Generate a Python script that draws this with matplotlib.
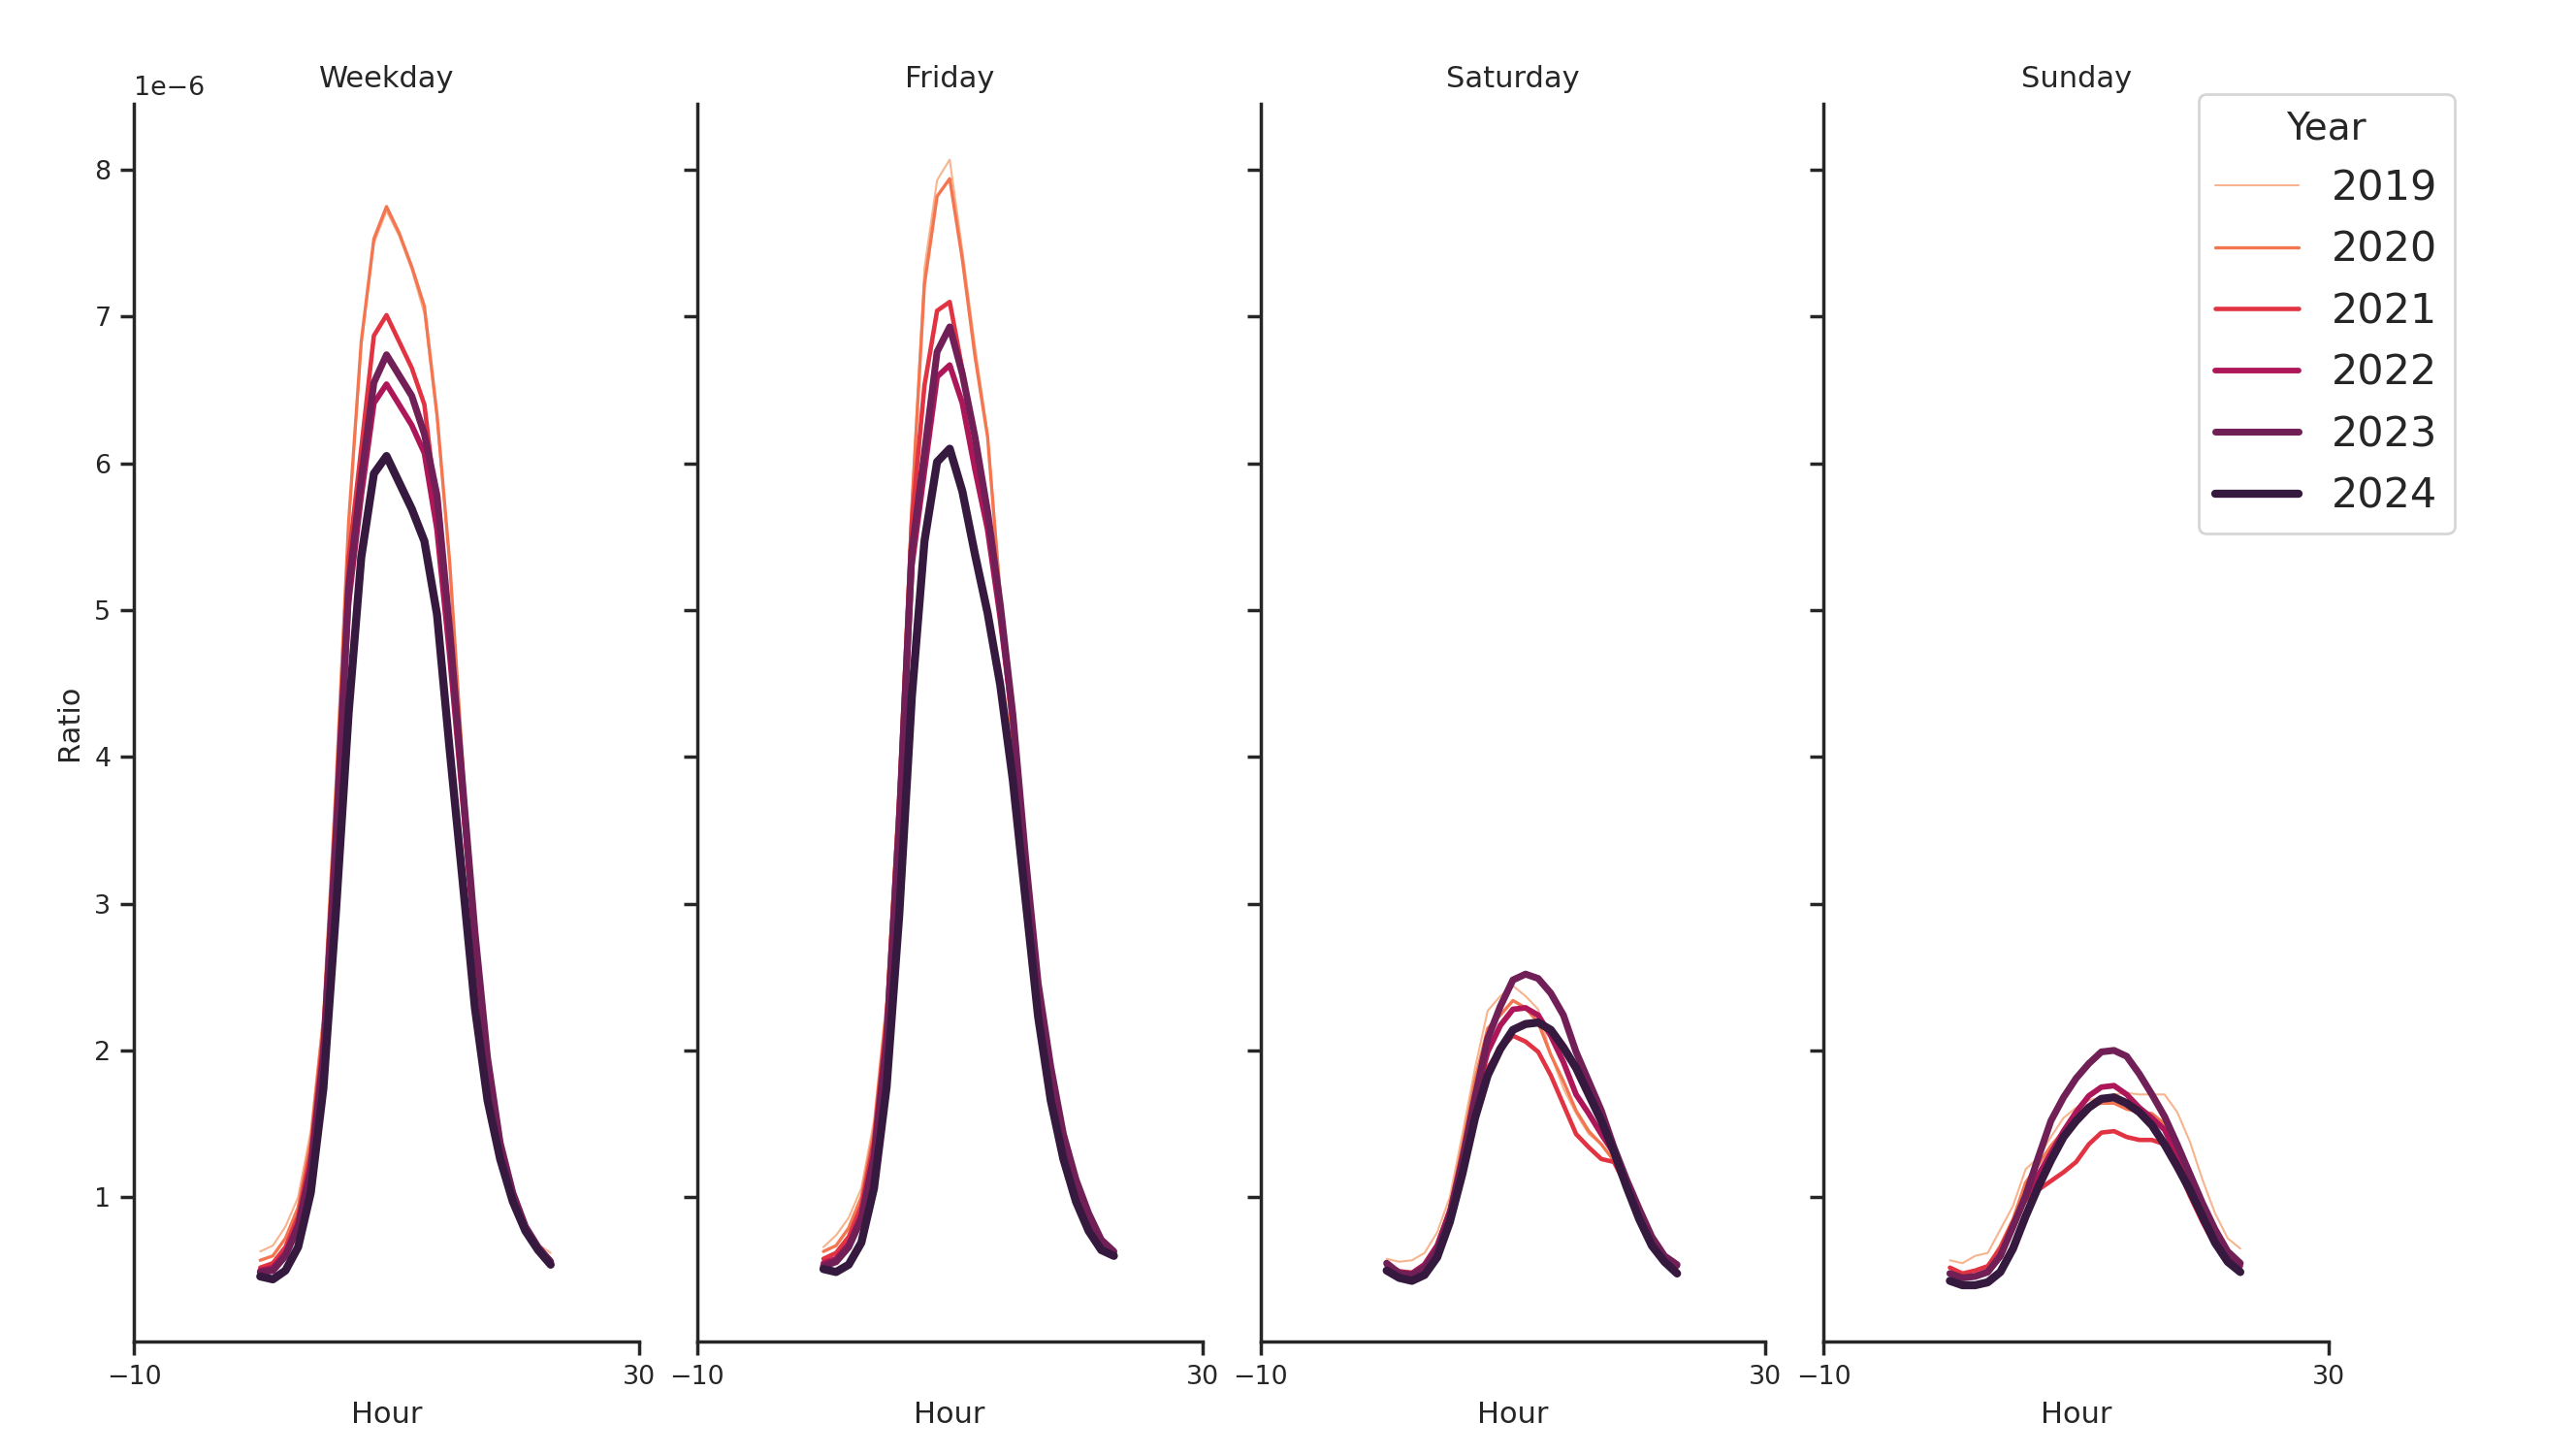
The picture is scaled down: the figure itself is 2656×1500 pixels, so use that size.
import matplotlib
matplotlib.use("Agg")
import matplotlib.pyplot as plt
from matplotlib.lines import Line2D

hours = list(range(24))
days = ["Weekday", "Friday", "Saturday", "Sunday"]
years = [2019, 2020, 2021, 2022, 2023, 2024]
colors = ["#f6b48f", "#f37651", "#e13342", "#ad1759", "#701f57", "#35193e"]
widths = [0.75, 1.2, 1.65, 2.1, 2.55, 3.0]

# ratio values (x 1e-6), one list of 24 hours per year
weekday = {
    2019: [0.63, 0.67, 0.80, 1.00, 1.45, 2.25, 3.75, 5.55, 6.80, 7.50, 7.72, 7.55, 7.32, 7.02, 6.30, 5.30, 4.00, 2.65, 1.80, 1.32, 1.02, 0.82, 0.68, 0.62],
    2020: [0.57, 0.60, 0.72, 0.93, 1.38, 2.20, 3.80, 5.60, 6.83, 7.53, 7.75, 7.57, 7.34, 7.07, 6.33, 5.33, 4.00, 2.63, 1.78, 1.29, 1.00, 0.80, 0.66, 0.58],
    2021: [0.52, 0.55, 0.66, 0.87, 1.30, 2.10, 3.60, 5.35, 6.10, 6.87, 7.01, 6.83, 6.65, 6.40, 5.67, 4.75, 3.72, 2.69, 1.89, 1.37, 1.03, 0.80, 0.66, 0.57],
    2022: [0.50, 0.52, 0.62, 0.82, 1.22, 2.00, 3.40, 5.05, 5.78, 6.41, 6.54, 6.40, 6.26, 6.07, 5.55, 4.70, 3.75, 2.75, 1.92, 1.37, 1.03, 0.80, 0.66, 0.56],
    2023: [0.49, 0.50, 0.60, 0.80, 1.18, 1.95, 3.45, 5.15, 5.90, 6.55, 6.74, 6.60, 6.46, 6.20, 5.78, 4.87, 3.84, 2.81, 1.95, 1.37, 1.03, 0.80, 0.66, 0.56],
    2024: [0.46, 0.44, 0.50, 0.66, 1.03, 1.74, 2.95, 4.30, 5.36, 5.93, 6.05, 5.87, 5.69, 5.47, 4.97, 4.05, 3.18, 2.29, 1.66, 1.26, 0.97, 0.77, 0.64, 0.54],
}
friday = {
    2019: [0.66, 0.74, 0.86, 1.06, 1.52, 2.35, 3.85, 5.75, 7.33, 7.93, 8.07, 7.45, 6.80, 6.20, 5.15, 4.05, 3.05, 2.25, 1.70, 1.32, 1.03, 0.82, 0.70, 0.64],
    2020: [0.63, 0.67, 0.79, 1.00, 1.45, 2.28, 3.80, 5.70, 7.22, 7.82, 7.94, 7.39, 6.73, 6.18, 5.10, 4.05, 3.05, 2.22, 1.68, 1.30, 1.00, 0.80, 0.68, 0.62],
    2021: [0.58, 0.62, 0.73, 0.94, 1.38, 2.20, 3.70, 5.60, 6.53, 7.04, 7.10, 6.64, 6.15, 5.60, 4.95, 4.20, 3.25, 2.30, 1.70, 1.28, 0.98, 0.78, 0.66, 0.60],
    2022: [0.55, 0.58, 0.68, 0.88, 1.30, 2.10, 3.50, 5.30, 5.95, 6.59, 6.67, 6.41, 5.96, 5.55, 4.95, 4.25, 3.30, 2.42, 1.82, 1.38, 1.06, 0.84, 0.69, 0.62],
    2023: [0.53, 0.56, 0.66, 0.85, 1.27, 2.05, 3.55, 5.40, 6.07, 6.76, 6.93, 6.61, 6.18, 5.67, 5.04, 4.29, 3.32, 2.46, 1.89, 1.43, 1.12, 0.89, 0.71, 0.63],
    2024: [0.51, 0.49, 0.54, 0.69, 1.06, 1.75, 2.92, 4.41, 5.47, 6.01, 6.10, 5.81, 5.38, 4.98, 4.49, 3.84, 3.03, 2.23, 1.66, 1.26, 0.97, 0.77, 0.64, 0.60],
}
saturday = {
    2019: [0.58, 0.56, 0.57, 0.62, 0.76, 1.00, 1.43, 1.88, 2.27, 2.37, 2.44, 2.37, 2.28, 1.97, 1.74, 1.57, 1.43, 1.36, 1.24, 1.05, 0.85, 0.70, 0.60, 0.55],
    2020: [0.55, 0.50, 0.49, 0.54, 0.68, 0.93, 1.35, 1.80, 2.15, 2.24, 2.34, 2.29, 2.19, 1.97, 1.79, 1.59, 1.45, 1.36, 1.25, 1.07, 0.87, 0.70, 0.59, 0.53],
    2021: [0.54, 0.49, 0.48, 0.53, 0.67, 0.92, 1.30, 1.72, 1.88, 2.01, 2.10, 2.06, 1.99, 1.83, 1.63, 1.43, 1.34, 1.26, 1.24, 1.07, 0.87, 0.70, 0.59, 0.53],
    2022: [0.54, 0.49, 0.48, 0.54, 0.67, 0.90, 1.25, 1.68, 1.99, 2.17, 2.28, 2.29, 2.24, 2.10, 1.92, 1.70, 1.57, 1.43, 1.30, 1.10, 0.90, 0.70, 0.59, 0.53],
    2023: [0.55, 0.48, 0.47, 0.52, 0.64, 0.87, 1.25, 1.68, 2.08, 2.30, 2.48, 2.52, 2.49, 2.39, 2.24, 1.99, 1.79, 1.59, 1.34, 1.12, 0.92, 0.73, 0.60, 0.54],
    2024: [0.50, 0.45, 0.43, 0.47, 0.59, 0.83, 1.16, 1.54, 1.83, 2.01, 2.14, 2.18, 2.19, 2.14, 2.02, 1.88, 1.70, 1.52, 1.31, 1.07, 0.85, 0.67, 0.56, 0.48],
}
sunday = {
    2019: [0.57, 0.55, 0.60, 0.62, 0.78, 0.94, 1.19, 1.27, 1.41, 1.54, 1.61, 1.66, 1.68, 1.70, 1.71, 1.70, 1.70, 1.70, 1.58, 1.38, 1.12, 0.89, 0.72, 0.65],
    2020: [0.52, 0.48, 0.50, 0.53, 0.67, 0.85, 1.10, 1.22, 1.35, 1.45, 1.55, 1.62, 1.64, 1.64, 1.60, 1.58, 1.57, 1.50, 1.33, 1.12, 0.92, 0.74, 0.62, 0.56],
    2021: [0.52, 0.48, 0.50, 0.53, 0.65, 0.83, 0.98, 1.05, 1.11, 1.17, 1.24, 1.36, 1.44, 1.45, 1.41, 1.39, 1.39, 1.36, 1.21, 1.01, 0.83, 0.67, 0.58, 0.54],
    2022: [0.48, 0.45, 0.46, 0.49, 0.60, 0.80, 1.00, 1.15, 1.30, 1.45, 1.58, 1.69, 1.75, 1.76, 1.70, 1.61, 1.54, 1.46, 1.28, 1.06, 0.85, 0.68, 0.58, 0.53],
    2023: [0.48, 0.45, 0.46, 0.49, 0.60, 0.80, 1.01, 1.27, 1.52, 1.68, 1.81, 1.91, 1.99, 2.00, 1.96, 1.84, 1.70, 1.55, 1.36, 1.16, 0.96, 0.78, 0.63, 0.55],
    2024: [0.43, 0.40, 0.40, 0.42, 0.49, 0.65, 0.87, 1.07, 1.25, 1.41, 1.52, 1.61, 1.67, 1.68, 1.64, 1.58, 1.49, 1.36, 1.21, 1.05, 0.87, 0.69, 0.56, 0.49],
}
data = [weekday, friday, saturday, sunday]

text_color = "#262626"
plt.rcParams.update({
    "font.family": "DejaVu Sans",
    "text.color": text_color,
    "axes.labelcolor": text_color,
    "xtick.color": text_color,
    "ytick.color": text_color,
    "axes.edgecolor": text_color,
    "axes.linewidth": 1.25,
    "xtick.major.width": 1.25,
    "ytick.major.width": 1.25,
    "xtick.major.size": 5,
    "ytick.major.size": 5,
    "xtick.labelsize": 9.7,
    "ytick.labelsize": 9.7,
    "lines.solid_capstyle": "round",
})


def main():
    fig, axes = plt.subplots(1, 4, figsize=(13.28, 7.5), dpi=200, sharey=True)
    fig.subplots_adjust(left=0.052, right=0.904, top=0.929, bottom=0.078, wspace=0.115)

    for ax, day, values in zip(axes, days, data):
        for year, color, lw in zip(years, colors, widths):
            ax.plot(hours, [v * 1e-6 for v in values[year]], color=color, lw=lw)
        ax.set_title(day, fontsize=11)
        ax.set_xlabel("Hour", fontsize=11)
        ax.set_xlim(-10, 30)
        ax.set_xticks([-10, 30])
        ax.spines["top"].set_visible(False)
        ax.spines["right"].set_visible(False)
        ax.yaxis.get_offset_text().set_fontsize(9.7)

    axes[0].set_ylabel("Ratio", fontsize=11)

    handles = [Line2D([], [], color=c, lw=w) for c, w in zip(colors, widths)]
    fig.legend(handles, [str(y) for y in years], title="Year",
               loc="upper right", bbox_to_anchor=(0.961, 0.950),
               fontsize=15.5, title_fontsize=14)

    fig.savefig("out.png", dpi=200)


if __name__ == "__main__":
    main()
